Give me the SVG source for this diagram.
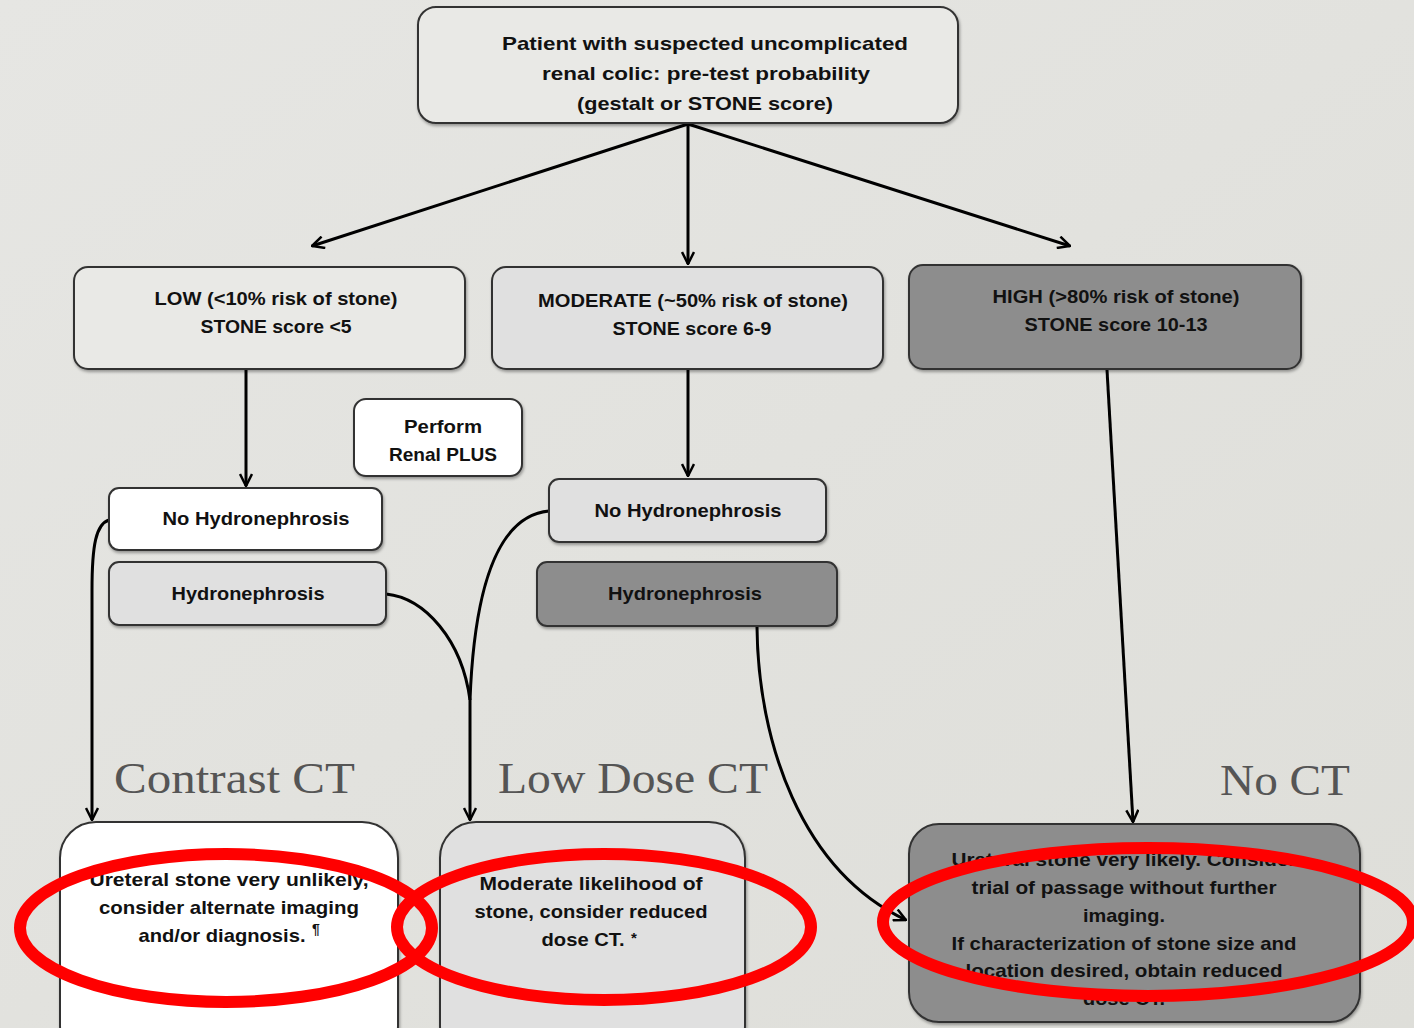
<svg xmlns="http://www.w3.org/2000/svg" width="1414" height="1028" viewBox="0 0 1414 1028">
<defs>
<linearGradient id="bg" x1="0" y1="0" x2="1" y2="1">
<stop offset="0" stop-color="#e6e6e3"/>
<stop offset="1" stop-color="#deded9"/>
</linearGradient>
<marker id="arr" viewBox="0 0 14 14" refX="13" refY="7" markerWidth="14" markerHeight="14" markerUnits="userSpaceOnUse" orient="auto">
<path d="M1,1 L13,7 L1,13" fill="none" stroke="#000" stroke-width="2.5"/>
</marker>
<filter id="sh" x="-5%" y="-5%" width="110%" height="115%">
<feDropShadow dx="1" dy="2" stdDeviation="1.5" flood-color="#000" flood-opacity="0.35"/>
</filter>
</defs>
<style>
.box{stroke:#333;stroke-width:2;filter:url(#sh)}
.w{fill:#ffffff}
.lt{fill:#e9e9e6}
.lg{fill:#e0e0e0}
.dg{fill:#8d8d8d}
.t{font-family:"Liberation Sans",Arial,sans-serif;font-weight:bold;font-size:19px;fill:#111;text-anchor:middle}
.lab{font-family:"Liberation Serif","Times New Roman",serif;font-size:45px;fill:#555}
.con{fill:none;stroke:#000;stroke-width:3}
.red{fill:none;stroke:#ff0000;stroke-width:12}
</style>
<rect width="1414" height="1028" fill="url(#bg)"/>

<g id="connectors">
<line class="con" x1="688" y1="124" x2="312" y2="246" marker-end="url(#arr)"/>
<line class="con" x1="688" y1="124" x2="688" y2="264" marker-end="url(#arr)"/>
<line class="con" x1="688" y1="124" x2="1070" y2="246" marker-end="url(#arr)"/>
<line class="con" x1="246" y1="370" x2="246" y2="486" marker-end="url(#arr)"/>
<line class="con" x1="688" y1="370" x2="688" y2="476" marker-end="url(#arr)"/>
<line class="con" x1="1107" y1="370" x2="1133" y2="822" marker-end="url(#arr)"/>
<path class="con" d="M109,520 C96,524 92,545 92,590 L92,820" marker-end="url(#arr)"/>
<path class="con" d="M386,594 C425,598 462,640 470,700 L470,820" marker-end="url(#arr)"/>
<path class="con" d="M549,511 C505,515 475,570 470,700"/>
<path class="con" d="M757,627 C758,740 800,870 906,920" marker-end="url(#arr)"/>
</g>

<g id="n-top">
<rect class="box lt" x="418" y="7" width="540" height="116" rx="18"/>
<text class="t" x="705" y="50" textLength="406" lengthAdjust="spacingAndGlyphs">Patient with suspected uncomplicated</text>
<text class="t" x="706" y="80" textLength="328" lengthAdjust="spacingAndGlyphs">renal colic: pre-test probability</text>
<text class="t" x="705" y="110" textLength="256" lengthAdjust="spacingAndGlyphs">(gestalt or STONE score)</text>
</g>

<g id="n-low">
<rect class="box lt" x="74" y="267" width="391" height="102" rx="14"/>
<text class="t" x="276" y="305" textLength="243" lengthAdjust="spacingAndGlyphs">LOW (&lt;10% risk of stone)</text>
<text class="t" x="276" y="333" textLength="151" lengthAdjust="spacingAndGlyphs">STONE score &lt;5</text>
</g>

<g id="n-mod">
<rect class="box lg" x="492" y="267" width="391" height="102" rx="14"/>
<text class="t" x="693" y="307" textLength="310" lengthAdjust="spacingAndGlyphs">MODERATE (~50% risk of stone)</text>
<text class="t" x="692" y="335" textLength="159" lengthAdjust="spacingAndGlyphs">STONE score 6-9</text>
</g>

<g id="n-high">
<rect class="box dg" x="909" y="265" width="392" height="104" rx="14"/>
<text class="t" x="1116" y="303" textLength="247" lengthAdjust="spacingAndGlyphs">HIGH (&gt;80% risk of stone)</text>
<text class="t" x="1116" y="331" textLength="183" lengthAdjust="spacingAndGlyphs">STONE score 10-13</text>
</g>

<g id="n-renal">
<rect class="box w" x="354" y="399" width="168" height="77" rx="12"/>
<text class="t" x="443" y="433" textLength="78" lengthAdjust="spacingAndGlyphs">Perform</text>
<text class="t" x="443" y="461" textLength="108" lengthAdjust="spacingAndGlyphs">Renal PLUS</text>
</g>

<g id="n-nohydro-low">
<rect class="box w" x="109" y="488" width="273" height="62" rx="10"/>
<text class="t" x="256" y="525" textLength="187" lengthAdjust="spacingAndGlyphs">No Hydronephrosis</text>
</g>

<g id="n-hydro-low">
<rect class="box lg" x="109" y="562" width="277" height="63" rx="10"/>
<text class="t" x="248" y="600" textLength="153" lengthAdjust="spacingAndGlyphs">Hydronephrosis</text>
</g>

<g id="n-nohydro-mod">
<rect class="box lg" x="549" y="479" width="277" height="63" rx="10"/>
<text class="t" x="688" y="517" textLength="187" lengthAdjust="spacingAndGlyphs">No Hydronephrosis</text>
</g>

<g id="n-hydro-mod">
<rect class="box dg" x="537" y="562" width="300" height="64" rx="10"/>
<text class="t" x="685" y="600" textLength="154" lengthAdjust="spacingAndGlyphs">Hydronephrosis</text>
</g>

<g id="labels">
<text class="lab" x="114" y="793" textLength="241" lengthAdjust="spacingAndGlyphs">Contrast CT</text>
<text class="lab" x="498" y="793" textLength="270" lengthAdjust="spacingAndGlyphs">Low Dose CT</text>
<text class="lab" x="1220" y="795" textLength="130" lengthAdjust="spacingAndGlyphs">No CT</text>
</g>

<g id="n-contrast">
<rect class="box w" x="60" y="822" width="338" height="240" rx="36"/>
<text class="t" x="229" y="886" textLength="279" lengthAdjust="spacingAndGlyphs">Ureteral stone very unlikely,</text>
<text class="t" x="229" y="914" textLength="260" lengthAdjust="spacingAndGlyphs">consider alternate imaging</text>
<text class="t" x="222" y="942" textLength="167" lengthAdjust="spacingAndGlyphs">and/or diagnosis.</text>
<text class="t" x="316" y="934" style="font-size:14px">¶</text>
</g>

<g id="n-lowdose">
<rect class="box lg" x="440" y="822" width="305" height="240" rx="36"/>
<text class="t" x="591" y="890" textLength="223" lengthAdjust="spacingAndGlyphs">Moderate likelihood of</text>
<text class="t" x="591" y="918" textLength="233" lengthAdjust="spacingAndGlyphs">stone, consider reduced</text>
<text class="t" x="583" y="946" textLength="83" lengthAdjust="spacingAndGlyphs">dose CT.</text>
<text class="t" x="634" y="943" style="font-size:15px">*</text>
</g>

<g id="n-noct">
<rect class="box dg" x="909" y="824" width="451" height="198" rx="30"/>
<text class="t" x="1124" y="866" textLength="345" lengthAdjust="spacingAndGlyphs">Ureteral stone very likely. Consider</text>
<text class="t" x="1124" y="894" textLength="305" lengthAdjust="spacingAndGlyphs">trial of passage without further</text>
<text class="t" x="1124" y="922" textLength="82" lengthAdjust="spacingAndGlyphs">imaging.</text>
<text class="t" x="1124" y="950" textLength="345" lengthAdjust="spacingAndGlyphs">If characterization of stone size and</text>
<text class="t" x="1124" y="977" textLength="317" lengthAdjust="spacingAndGlyphs">location desired, obtain reduced</text>
<text class="t" x="1124" y="1005" textLength="82" lengthAdjust="spacingAndGlyphs">dose CT.</text>
</g>

<g id="highlights">
<ellipse class="red" cx="226" cy="928" rx="206" ry="74"/>
<ellipse class="red" cx="604" cy="927" rx="207" ry="73"/>
<ellipse class="red" cx="1148" cy="922" rx="265" ry="74"/>
</g>
</svg>
